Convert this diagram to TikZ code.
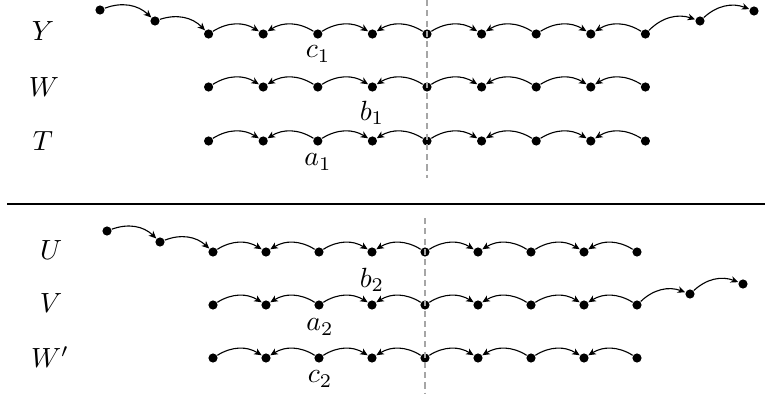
\documentclass[tikz,border=0pt]{standalone}
\usepackage{amsmath,amssymb}
\usetikzlibrary{arrows.meta}

\begin{document}
\begin{tikzpicture}[x=0.36pt,y=-0.36pt,
    >={Stealth[length=2.7pt,width=2.4pt,inset=0.8pt]},
    dot/.style={circle,fill,inner sep=0pt,minimum size=3.3pt},
    arc/.style={bend left=32},
    sep/.style={gray!70,dash pattern=on 2.2pt off 1.5pt}]
  \useasboundingbox (0,0) rectangle (765,394);
  % upper half: rows Y, W, T
  \foreach \r/\ry in {Y/34,W/87,T/141}
    \foreach \i in {-4,...,4}
      \node[dot] (\r\i) at (427+54.6*\i,\ry) {};
  \node[dot] (Y-6) at (100,10) {};
  \node[dot] (Y-5) at (155,21) {};
  \node[dot] (Y5) at (700,21) {};
  \node[dot] (Y6) at (754,11) {};
  % lower half: rows U, V, W'
  \foreach \r/\ry in {U/252,V/305,Wp/358}
    \foreach \i in {-4,...,4}
      \node[dot] (\r\i) at (425+53*\i,\ry) {};
  \node[dot] (U-6) at (107,231) {};
  \node[dot] (U-5) at (160,242) {};
  \node[dot] (V5) at (690,294) {};
  \node[dot] (V6) at (743,284) {};
  % alternating arcs
  \foreach \r in {Y,W,T,U,V,Wp}{
    \foreach \i/\j in {-4/-3,-2/-1,0/1,2/3}
      \draw[->] (\r\i) to[arc] (\r\j);
    \foreach \i/\j in {-3/-2,-1/0,1/2,3/4}
      \draw[<-] (\r\i) to[arc] (\r\j);
  }
  % tails
  \draw[->] (Y-6) to[arc] (Y-5);
  \draw[->] (Y-5) to[arc] (Y-4);
  \draw[->] (Y4) to[arc] (Y5);
  \draw[->] (Y5) to[arc] (Y6);
  \draw[->] (U-6) to[arc] (U-5);
  \draw[->] (U-5) to[arc] (U-4);
  \draw[->] (V4) to[arc] (V5);
  \draw[->] (V5) to[arc] (V6);
  % row names
  \node (nY) at (43,31) {$Y$};
  \node (nW) at (44,87) {$W$};
  \node (nT) at (43,141) {$T$};
  \node (nU) at (51,250) {$U$};
  \node (nV) at (51,303) {$V$};
  \node (nWp) at (50,357) {$W'$};
  % labels
  \node (c1) at (318,54) {$c_1$};
  \node (b1) at (372,113) {$b_1$};
  \node (a1) at (318,162) {$a_1$};
  \node (b2) at (372,280) {$b_2$};
  \node (a2) at (320,327) {$a_2$};
  \node (c2) at (320,379) {$c_2$};
  % separators
  \coordinate (s1) at (427,0);
  \coordinate (s2) at (427,178);
  \coordinate (s3) at (425,218);
  \coordinate (s4) at (425,394);
  \draw[sep] (s1) -- (s2);
  \draw[sep] (s3) -- (s4);
  \coordinate (h1) at (7,204);
  \coordinate (h2) at (765,204);
  \draw[line width=0.5pt] (h1) -- (h2);
\end{tikzpicture}
\end{document}
